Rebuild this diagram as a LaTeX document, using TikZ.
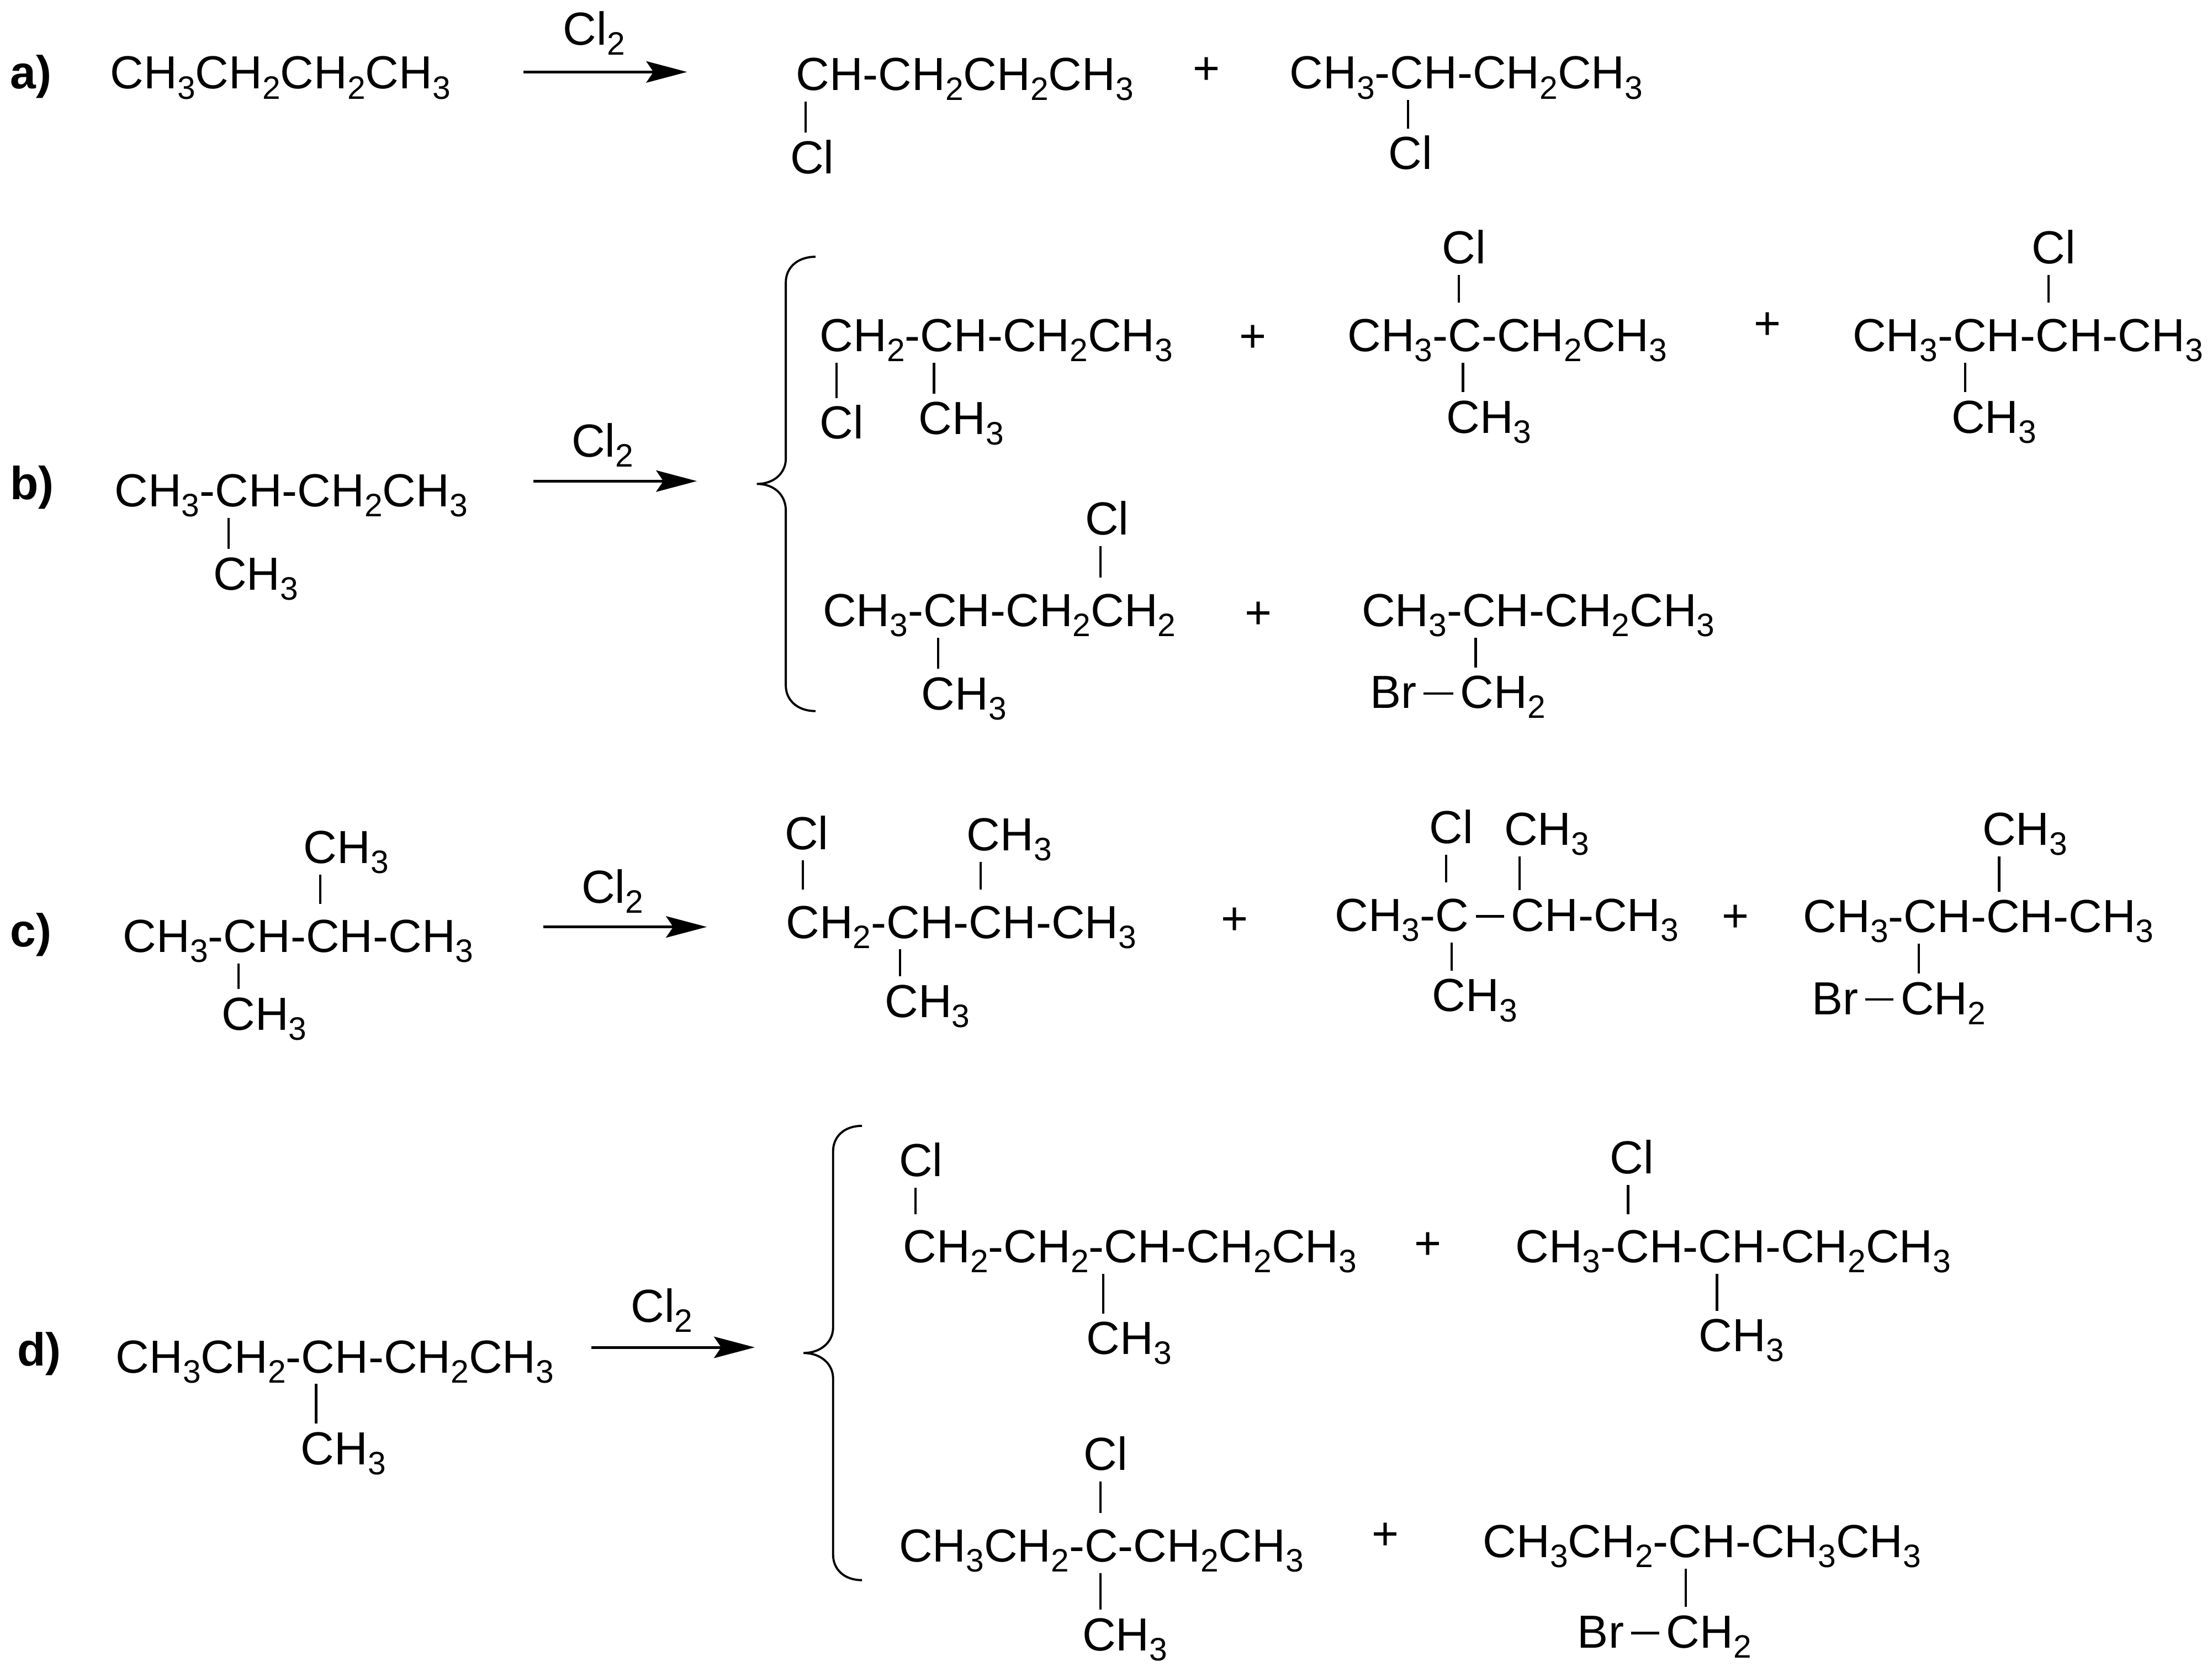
\documentclass[tikz,border=0pt]{standalone}
\usepackage{fontspec}
\setmainfont{Liberation Sans}
\usetikzlibrary{arrows.meta}
\newcommand{\low}[1]{\raisebox{-0.215em}{\fontsize{16.7pt}{16.7pt}\selectfont #1}}

\begin{document}
\begin{tikzpicture}[x=0.02555cm,y=-0.02555cm,
    chem/.style={anchor=base west,xshift=-4.2pt,inner sep=0pt,outer sep=3.6pt,text height=0.614cm,text depth=0.077cm,font=\fontsize{23.9pt}{28pt}\selectfont},
    rowlabel/.style={anchor=base west,inner sep=0pt,font=\fontsize{23.9pt}{28pt}\selectfont\bfseries},
    plussign/.style={inner sep=0pt,font=\fontsize{23.9pt}{28pt}\selectfont},
    bond/.style={line width=1.25pt},
    upbond/.style={bond,shorten >=4pt},
    rarrow/.style={line width=1.4pt,-{Stealth[length=21pt,width=11pt,inset=3.7pt]}},
    curly/.style={line width=1.1pt}]
    \useasboundingbox (0,0) rectangle (1567.9,1184.8);

    \node[rowlabel] (alabel) at (7,63) {a)};
    \node[chem] (ar) at (79,63) {CH\low{3}CH\low{2}CH\low{2}CH\low{3}};
    \node[chem] (agas) at (400,32) {Cl\low{2}};
    \coordinate (astart) at (371,51);
    \coordinate (aend) at (487,51);
    \draw[rarrow] (astart) -- (aend);
    \node[chem] (ap1) at (565,64) {CH-CH\low{2}CH\low{2}CH\low{3}};
    \node[chem] (ap1cl) at (561,123) {Cl};
    \draw[bond] (ap1.south -| 571,0) -- (ap1cl.north -| 571,0);
    \node[plussign] (aplus) at (855,50) {+};
    \node[chem] (ap2) at (915,63) {CH\low{3}-CH-CH\low{2}CH\low{3}};
    \node[chem] (ap2cl) at (985,120) {Cl};
    \draw[bond] (ap2.south -| 998,0) -- (ap2cl.north -| 998,0);

    \node[rowlabel] (blabel) at (7,354) {b)};
    \node[chem] (br) at (82,359) {CH\low{3}-CH-CH\low{2}CH\low{3}};
    \node[chem] (brme) at (152,418) {CH\low{3}};
    \draw[bond] (br.south -| 162,0) -- (brme.north -| 162,0);
    \node[chem] (bgas) at (406,324) {Cl\low{2}};
    \coordinate (bstart) at (378,341);
    \coordinate (bend) at (494,341);
    \draw[rarrow] (bstart) -- (bend);
    \draw[curly] (578,182) .. controls (565,182) and (557,190) .. (557,200) -- (557,325)
        .. controls (557,335) and (549,343) .. (536.5,343)
        .. controls (549,343) and (557,351) .. (557,362) -- (557,486)
        .. controls (557,496) and (565,504) .. (578,504);
    \node[chem] (bp1) at (582,249) {CH\low{2}-CH-CH\low{2}CH\low{3}};
    \node[chem] (bp1cl) at (582,311) {Cl};
    \node[chem] (bp1me) at (652,308) {CH\low{3}};
    \draw[bond] (bp1.south -| 593,0) -- (bp1cl.north -| 593,0);
    \draw[bond] (bp1.south -| 662,0) -- (bp1me.north -| 662,0);
    \node[plussign] (bplus1) at (888,240) {+};
    \node[chem] (bp2) at (956,249) {CH\low{3}-C-CH\low{2}CH\low{3}};
    \node[chem] (bp2cl) at (1023,187) {Cl};
    \node[chem] (bp2me) at (1026,307) {CH\low{3}};
    \draw[upbond] (bp2cl.south -| 1034,0) -- (bp2.north -| 1034,0);
    \draw[bond] (bp2.south -| 1037,0) -- (bp2me.north -| 1037,0);
    \node[plussign] (bplus2) at (1253,231) {+};
    \node[chem] (bp3) at (1314,249) {CH\low{3}-CH-CH-CH\low{3}};
    \node[chem] (bp3cl) at (1441,187) {Cl};
    \node[chem] (bp3me) at (1384,307) {CH\low{3}};
    \draw[upbond] (bp3cl.south -| 1452,0) -- (bp3.north -| 1452,0);
    \draw[bond] (bp3.south -| 1393,0) -- (bp3me.north -| 1393,0);
    \node[chem] (bp4) at (584,444) {CH\low{3}-CH-CH\low{2}CH\low{2}};
    \node[chem] (bp4cl) at (770,379) {Cl};
    \node[chem] (bp4me) at (654,503) {CH\low{3}};
    \draw[upbond] (bp4cl.south -| 780,0) -- (bp4.north -| 780,0);
    \draw[bond] (bp4.south -| 665,0) -- (bp4me.north -| 665,0);
    \node[plussign] (bplus3) at (892,436) {+};
    \node[chem] (bp5) at (966,444) {CH\low{3}-CH-CH\low{2}CH\low{3}};
    \node[chem] (bp5br) at (972,502) {Br};
    \node[chem] (bp5ch) at (1036,502) {CH\low{2}};
    \draw[bond] (bp5.south -| 1046,0) -- (bp5ch.north -| 1046,0);
    \draw[bond] (bp5br) -- (bp5ch);

    \node[rowlabel] (clabel) at (7,671) {c)};
    \node[chem] (cr) at (88,675) {CH\low{3}-CH-CH-CH\low{3}};
    \node[chem] (crtop) at (216,612) {CH\low{3}};
    \node[chem] (crme) at (158,730) {CH\low{3}};
    \draw[upbond] (crtop.south -| 227,0) -- (cr.north -| 227,0);
    \draw[bond] (cr.south -| 169,0) -- (crme.north -| 169,0);
    \node[chem] (cgas) at (413,640) {Cl\low{2}};
    \coordinate (cstart) at (385,657);
    \coordinate (cend) at (501,657);
    \draw[rarrow] (cstart) -- (cend);
    \node[chem] (cp1) at (558,665) {CH\low{2}-CH-CH-CH\low{3}};
    \node[chem] (cp1cl) at (557,602) {Cl};
    \node[chem] (cp1top) at (686,603) {CH\low{3}};
    \node[chem] (cp1me) at (628,721) {CH\low{3}};
    \draw[upbond] (cp1cl.south -| 569,0) -- (cp1.north -| 569,0);
    \draw[upbond] (cp1top.south -| 695,0) -- (cp1.north -| 695,0);
    \draw[bond] (cp1.south -| 638,0) -- (cp1me.north -| 638,0);
    \node[plussign] (cplus1) at (875,653) {+};
    \node[chem] (cp2a) at (947,660) {CH\low{3}-C};
    \node[chem] (cp2b) at (1072,660) {CH-CH\low{3}};
    \node[chem] (cp2cl) at (1014,598) {Cl};
    \node[chem] (cp2top) at (1067,599) {CH\low{3}};
    \node[chem] (cp2me) at (1016,717) {CH\low{3}};
    \draw[bond] (cp2a) -- (cp2b);
    \draw[upbond] (cp2cl.south -| 1025,0) -- (cp2a.north -| 1025,0);
    \draw[bond] (cp2top.south -| 1077,0) -- (cp2b.north -| 1077,0);
    \draw[bond] (cp2a.south -| 1029,0) -- (cp2me.north -| 1029,0);
    \node[plussign] (cplus2) at (1230,651) {+};
    \node[chem] (cp3) at (1279,661) {CH\low{3}-CH-CH-CH\low{3}};
    \node[chem] (cp3top) at (1406,599) {CH\low{3}};
    \node[chem] (cp3br) at (1285,719) {Br};
    \node[chem] (cp3ch) at (1348,719) {CH\low{2}};
    \draw[bond] (cp3top.south -| 1417,0) -- (cp3.north -| 1417,0);
    \draw[bond] (cp3.south -| 1360,0) -- (cp3ch.north -| 1360,0);
    \draw[bond] (cp3br) -- (cp3ch);

    \node[rowlabel] (dlabel) at (12,968) {d)};
    \node[chem] (dr) at (83,973) {CH\low{3}CH\low{2}-CH-CH\low{2}CH\low{3}};
    \node[chem] (drme) at (214,1038) {CH\low{3}};
    \draw[bond] (dr.south -| 224,0) -- (drme.north -| 224,0);
    \node[chem] (dgas) at (448,937) {Cl\low{2}};
    \coordinate (dstart) at (419,955);
    \coordinate (dend) at (535,955);
    \draw[rarrow] (dstart) -- (dend);
    \draw[curly] (611,798) .. controls (598,798) and (590.5,806) .. (590.5,816) -- (590.5,941)
        .. controls (590.5,951) and (582,959) .. (569.5,959)
        .. controls (582,959) and (590.5,967) .. (590.5,977) -- (590.5,1102)
        .. controls (590.5,1112) and (598,1120) .. (611,1120);
    \node[chem] (dp1) at (641,895) {CH\low{2}-CH\low{2}-CH-CH\low{2}CH\low{3}};
    \node[chem] (dp1cl) at (638,834) {Cl};
    \node[chem] (dp1me) at (771,960) {CH\low{3}};
    \draw[upbond] (dp1cl.south -| 649,0) -- (dp1.north -| 649,0);
    \draw[bond] (dp1.south -| 782,0) -- (dp1me.north -| 782,0);
    \node[plussign] (dplus1) at (1012,883) {+};
    \node[chem] (dp2) at (1075,895) {CH\low{3}-CH-CH-CH\low{2}CH\low{3}};
    \node[chem] (dp2cl) at (1142,832) {Cl};
    \node[chem] (dp2me) at (1205,958) {CH\low{3}};
    \draw[upbond] (dp2cl.south -| 1154,0) -- (dp2.north -| 1154,0);
    \draw[bond] (dp2.south -| 1217,0) -- (dp2me.north -| 1217,0);
    \node[chem] (dp3) at (638,1107) {CH\low{3}CH\low{2}-C-CH\low{2}CH\low{3}};
    \node[chem] (dp3cl) at (769,1042) {Cl};
    \node[chem] (dp3me) at (768,1170) {CH\low{3}};
    \draw[upbond] (dp3cl.south -| 780,0) -- (dp3.north -| 780,0);
    \draw[bond] (dp3.south -| 780,0) -- (dp3me.north -| 780,0);
    \node[plussign] (dplus2) at (982,1089) {+};
    \node[chem] (dp4) at (1052,1104) {CH\low{3}CH\low{2}-CH-CH\low{3}CH\low{3}};
    \node[chem] (dp4br) at (1119,1168) {Br};
    \node[chem] (dp4ch) at (1182,1168) {CH\low{2}};
    \draw[bond] (dp4.south -| 1195,0) -- (dp4ch.north -| 1195,0);
    \draw[bond] (dp4br) -- (dp4ch);
\end{tikzpicture}
\end{document}
